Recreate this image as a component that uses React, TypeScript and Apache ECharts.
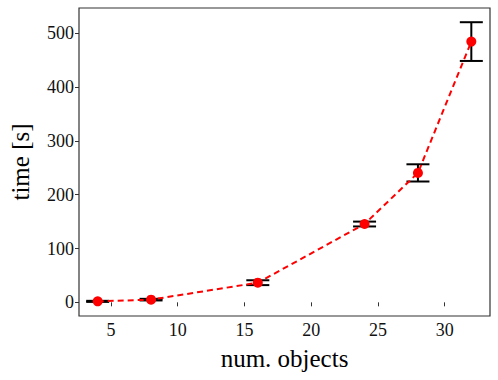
import React, { useEffect, useRef } from "react";
import * as echarts from "echarts";

const xValues = [4, 8, 16, 24, 28, 32];
const meanValues = [1.8, 5, 36.5, 145.5, 240.5, 484.5];
const errValues = [1, 1.5, 4.5, 4.5, 16, 36];
const xTicks = [5, 10, 15, 20, 25, 30];
const yTicks = [0, 100, 200, 300, 400, 500];

const FONT = "Liberation Serif";

const labelStyle = {
  fontFamily: FONT,
  fontSize: 18,
  color: "#111",
  margin: 5,
};

export default function App() {
  const ref = useRef<HTMLDivElement>(null);
  useEffect(() => {
    if (!ref.current) return;
    const chart = echarts.init(ref.current, undefined, { renderer: "svg" });
    const lineData = xValues.map((x, i) => [x, meanValues[i]]);
    const errData = xValues.map((x, i) => [x, meanValues[i] - errValues[i], meanValues[i] + errValues[i]]);
    chart.setOption({
      animation: false,
      textStyle: { fontFamily: FONT },
      grid: {
        left: 77,
        right: 8,
        top: 8,
        bottom: 64,
        show: true,
        borderColor: "#333",
        borderWidth: 1.2,
        backgroundColor: "#fff",
      },
      xAxis: {
        type: "value",
        min: 2.6,
        max: 33.4,
        name: "num. objects",
        nameLocation: "middle",
        nameGap: 30,
        nameTextStyle: { fontFamily: FONT, fontSize: 25, color: "#000" },
        axisLine: { show: false },
        splitLine: { show: false },
        axisTick: { show: true, length: 4, customValues: xTicks, lineStyle: { color: "#333", width: 1 } },
        axisLabel: { customValues: xTicks, ...labelStyle },
      },
      yAxis: {
        type: "value",
        min: -25.4,
        max: 546.9,
        name: "time [s]",
        nameLocation: "middle",
        nameGap: 46,
        nameRotate: 90,
        nameTextStyle: { fontFamily: FONT, fontSize: 25, color: "#000" },
        axisLine: { show: false },
        splitLine: { show: false },
        axisTick: { show: true, length: 4, customValues: yTicks, lineStyle: { color: "#333", width: 1 } },
        axisLabel: { customValues: yTicks, ...labelStyle },
      },
      series: [
        {
          type: "line",
          data: lineData,
          symbol: "circle",
          symbolSize: 10,
          lineStyle: { color: "#ff0000", width: 2, type: [6, 4] },
          itemStyle: { color: "#ff0000" },
          z: 3,
        },
        {
          type: "custom",
          data: errData,
          z: 2,
          renderItem: (params: any, api: any) => {
            const x = api.value(0);
            const lo = api.coord([x, api.value(1)]);
            const hi = api.coord([x, api.value(2)]);
            const half = 11.5;
            const style = { stroke: "#000", lineWidth: 2 };
            return {
              type: "group",
              children: [
                { type: "line", shape: { x1: lo[0], y1: lo[1], x2: hi[0], y2: hi[1] }, style },
                { type: "line", shape: { x1: lo[0] - half, y1: lo[1], x2: lo[0] + half, y2: lo[1] }, style },
                { type: "line", shape: { x1: hi[0] - half, y1: hi[1], x2: hi[0] + half, y2: hi[1] }, style },
              ],
            };
          },
        },
      ],
    });
    return () => chart.dispose();
  }, []);
  return <div ref={ref} style={{ width: 498, height: 380, position: "absolute", left: 0, top: 0 }} />;
}
